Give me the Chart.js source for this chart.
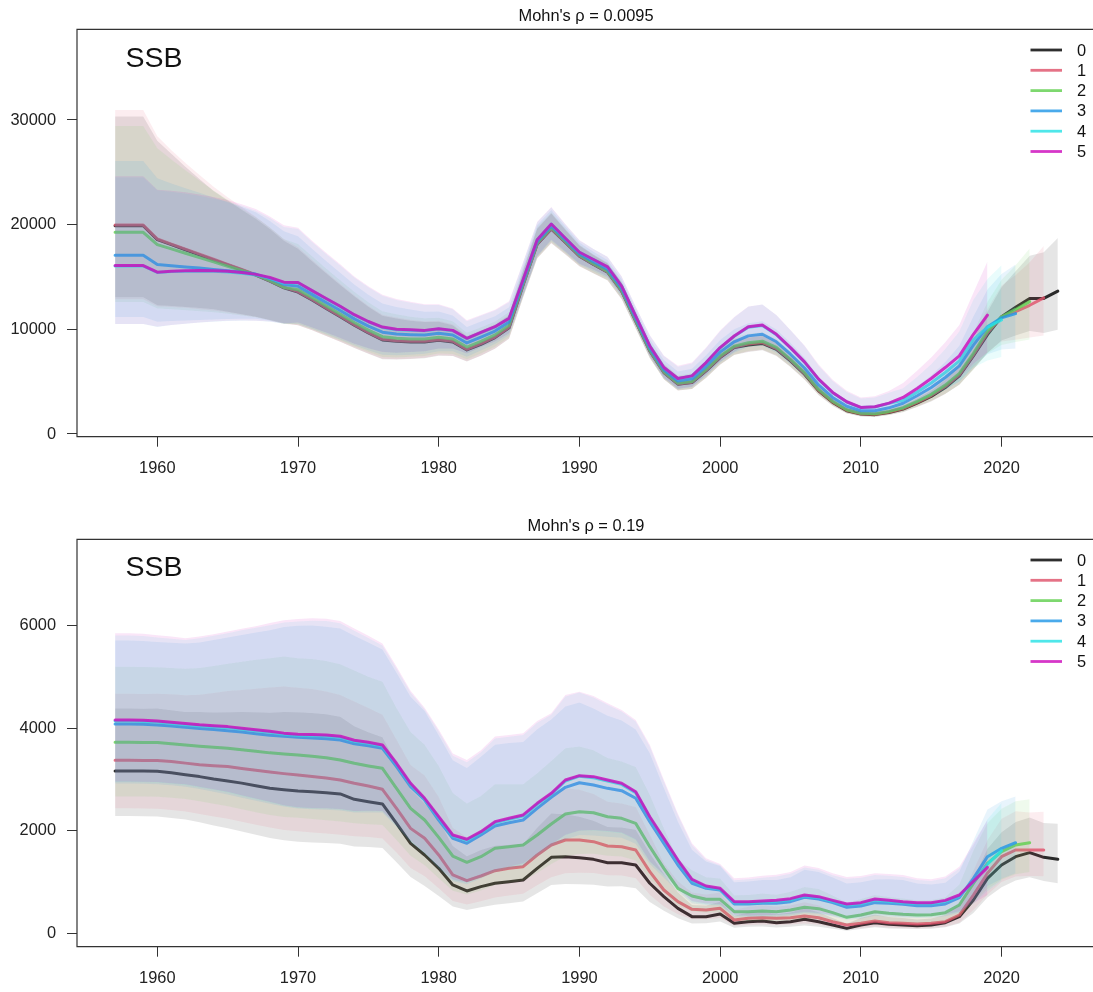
<!DOCTYPE html>
<html><head><meta charset="utf-8">
<script src="https://cdn.jsdelivr.net/npm/chart.js@4.4.1/dist/chart.umd.min.js"></script>
<style>
html,body{margin:0;padding:0;background:#fff;}
#wrap{position:relative;width:1093px;height:992px;overflow:hidden;}
.pane{position:absolute;left:0;width:1093px;height:496px;}
</style></head><body>
<div id="wrap">
<div class="pane" style="top:0"><canvas id="c1" width="1093" height="496"></canvas></div>
<div class="pane" style="top:496px"><canvas id="c2" width="1093" height="496"></canvas></div>
</div>
<script>
// ---------- categories ----------
const years = [1957,1958,1959,1960,1961,1962,1963,1964,1965,1966,1967,1968,1969,1970,1971,1972,1973,1974,1975,1976,1977,1978,1979,1980,1981,1982,1983,1984,1985,1986,1987,1988,1989,1990,1991,1992,1993,1994,1995,1996,1997,1998,1999,2000,2001,2002,2003,2004,2005,2006,2007,2008,2009,2010,2011,2012,2013,2014,2015,2016,2017,2018,2019,2020,2021,2022,2023,2024];
const peelLabels = ['0','1','2','3','4','5'];
const xTicks = [1960,1970,1980,1990,2000,2010,2020];
const yTicksTop = [0,10000,20000,30000];
const yTicksBottom = [0,2000,4000,6000];
const titleTop = "Mohn's \u03C1 = 0.0095";
const titleBottom = "Mohn's \u03C1 = 0.19";
const panelLabel = "SSB";

// ---------- top panel: estimates (from 1957) ----------
const topEst0 = [19900,19900,19900,18570,18086,17602,17118,16634,16150,15666,15185,14600,13970,13560,12800,12000,11200,10400,9650,8985,8860,8800,8800,8960,8800,8030,8570,9210,10160,14250,18140,19590,18300,16985,16190,15460,13650,10790,7935,5875,4760,4920,6030,7300,8255,8500,8650,8095,6985,5715,4125,3015,2220,1905,1850,2050,2380,2950,3585,4445,5555,7460,9500,11200,12100,12950,12950,13650];
const topEst1 = [19960,19960,19960,18630,18146,17662,17178,16694,16210,15726,15235,14640,14010,13606,12845,12048,11250,10450,9705,9047,8917,8858,8855,9015,8855,8086,8627,9262,10204,14276,18162,19614,18320,17004,16214,15486,13674,10814,7959,5899,4787,4952,6070,7348,8311,8588,8738,8167,7049,5774,4181,3063,2263,1937,1888,2095,2436,3020,3671,4540,5650,7563,9650,11200,11700,12300,13000];
const topEst2 = [19270,19270,19270,18095,17682,17269,16856,16443,16030,15617,15200,14650,14000,13790,13025,12238,11450,10650,9925,9294,9145,9088,9075,9235,9075,8308,8855,9470,10382,14378,18248,19708,18400,17080,16262,15537,13722,10862,8006,5946,4841,5015,6149,7443,8388,8710,8862,8267,7137,5856,4259,3130,2323,1981,1940,2158,2513,3118,3791,4674,5784,7708,9850,11200,11900,12650];
const topEst3 = [17080,17080,17080,16190,16080,15960,15850,15720,15590,15450,15280,14850,14290,14112,13340,12570,11800,11000,10310,9726,9544,9490,9460,9620,9460,8698,9254,9834,10693,14556,18398,19874,18540,17213,16454,15741,13914,11054,8196,6136,5057,5269,6467,7825,8810,9375,9533,8810,7620,6303,4683,3493,2650,2223,2227,2500,2935,3650,4443,5398,6508,8493,10250,11100,11500];
const topEst4 = [16060,16060,16060,15430,15520,15560,15570,15540,15480,15360,15200,14880,14430,14452,13673,12922,12170,11370,10717,10183,9966,9916,9867,10027,9867,9110,9676,10219,11021,14745,18557,20049,18688,17354,16656,15955,14116,11256,8396,6336,5284,5536,6801,8226,9332,10198,10362,9482,8217,6855,5207,3941,3054,2521,2580,2923,3213,4000,4871,5874,6984,9009,10200,10900];
const topEst5 = [16095,16095,16095,15460,15550,15600,15620,15600,15550,15420,15250,14950,14510,14480,13700,12950,12200,11400,10750,10220,10000,9950,9900,10060,9900,9143,9710,10250,11048,14760,18570,20063,18700,17365,16670,15970,14130,11270,8410,6350,5300,5555,6825,8255,9365,10250,10415,9525,8255,6890,5240,3970,3080,2540,2603,2950,3490,4350,5300,6350,7460,9525,11350];
// log-scale standard deviations of the estimates (band = 95% interval)
const topSd0 = [0.215,0.215,0.215,0.21,0.2,0.19,0.18,0.17,0.165,0.16,0.155,0.15,0.142,0.136,0.13,0.126,0.122,0.12,0.118,0.117,0.112,0.105,0.1,0.092,0.085,0.076,0.07,0.063,0.056,0.045,0.04,0.037,0.033,0.03,0.028,0.027,0.03,0.035,0.045,0.06,0.07,0.07,0.06,0.05,0.045,0.042,0.04,0.042,0.045,0.05,0.055,0.06,0.062,0.063,0.063,0.065,0.067,0.07,0.072,0.078,0.085,0.095,0.105,0.115,0.128,0.14,0.15,0.161];
const topSd1 = [0.224,0.224,0.224,0.216,0.205,0.195,0.186,0.177,0.17,0.164,0.158,0.152,0.145,0.138,0.132,0.128,0.124,0.121,0.119,0.118,0.113,0.106,0.1,0.093,0.086,0.077,0.071,0.064,0.057,0.046,0.04,0.037,0.033,0.03,0.028,0.027,0.03,0.035,0.046,0.062,0.072,0.072,0.062,0.052,0.047,0.044,0.042,0.044,0.047,0.052,0.057,0.062,0.065,0.067,0.068,0.07,0.072,0.075,0.079,0.085,0.092,0.1,0.11,0.121,0.133,0.147,0.165];
const topSd2 = [0.216,0.216,0.216,0.21,0.201,0.193,0.185,0.177,0.17,0.164,0.158,0.152,0.146,0.14,0.135,0.131,0.127,0.124,0.121,0.119,0.114,0.107,0.101,0.094,0.087,0.078,0.072,0.065,0.059,0.047,0.041,0.037,0.033,0.03,0.028,0.027,0.03,0.036,0.048,0.065,0.075,0.075,0.066,0.057,0.052,0.048,0.047,0.048,0.051,0.056,0.062,0.068,0.072,0.075,0.077,0.08,0.083,0.087,0.092,0.098,0.106,0.116,0.127,0.14,0.155,0.172];
const topSd3 = [0.216,0.216,0.216,0.21,0.203,0.197,0.191,0.185,0.179,0.173,0.167,0.161,0.155,0.149,0.144,0.14,0.136,0.133,0.13,0.127,0.122,0.115,0.108,0.1,0.092,0.083,0.076,0.069,0.063,0.05,0.042,0.038,0.034,0.031,0.029,0.028,0.031,0.037,0.052,0.072,0.085,0.085,0.078,0.07,0.065,0.062,0.062,0.064,0.068,0.074,0.08,0.088,0.095,0.1,0.103,0.106,0.11,0.114,0.118,0.124,0.132,0.142,0.152,0.163,0.175];
const topSd4 = [0.216,0.216,0.216,0.21,0.204,0.199,0.194,0.189,0.184,0.179,0.173,0.167,0.161,0.155,0.15,0.146,0.143,0.14,0.137,0.133,0.128,0.12,0.113,0.105,0.096,0.086,0.079,0.073,0.068,0.054,0.044,0.039,0.035,0.032,0.03,0.03,0.032,0.039,0.058,0.082,0.1,0.1,0.095,0.09,0.09,0.09,0.09,0.092,0.096,0.104,0.115,0.128,0.14,0.15,0.152,0.154,0.156,0.158,0.16,0.165,0.172,0.18,0.19,0.2];
const topSd5 = [0.217,0.217,0.217,0.21,0.205,0.2,0.195,0.19,0.185,0.18,0.175,0.168,0.162,0.157,0.152,0.148,0.145,0.142,0.139,0.135,0.13,0.122,0.115,0.107,0.098,0.088,0.08,0.075,0.07,0.055,0.045,0.04,0.036,0.033,0.03,0.03,0.033,0.04,0.06,0.085,0.105,0.105,0.098,0.092,0.09,0.088,0.088,0.09,0.095,0.105,0.12,0.135,0.15,0.16,0.165,0.168,0.17,0.168,0.164,0.165,0.17,0.178,0.19];

// ---------- bottom panel: estimates (from 1957) ----------
const botEst0 = [3167,3167,3165,3160,3130,3095,3057,3010,2971,2930,2880,2829,2800,2776,2760,2744,2719,2614,2568,2523,2145,1756,1528,1268,943,826,911,976,1008,1040,1268,1482,1495,1476,1443,1378,1378,1333,976,715,487,325,325,377,195,227,240,207,227,273,227,162,97,162,207,175,162,149,162,207,325,650,1072,1333,1495,1573,1482,1443];
const botEst1 = [3375,3375,3372,3369,3350,3320,3290,3270,3252,3215,3180,3145,3115,3089,3060,3030,2991,2926,2874,2809,2438,2047,1853,1528,1138,1027,1118,1222,1268,1300,1528,1723,1820,1820,1788,1703,1690,1625,1203,845,617,468,455,487,260,292,305,292,305,338,305,227,162,195,240,207,195,182,195,227,357,747,1170,1495,1625,1625,1625];
const botEst2 = [3726,3726,3723,3720,3700,3675,3650,3630,3610,3580,3550,3520,3500,3480,3455,3425,3382,3317,3265,3219,2829,2438,2210,1872,1508,1385,1495,1658,1690,1723,1918,2132,2327,2373,2353,2275,2243,2145,1690,1268,878,729,663,663,422,422,435,422,455,507,481,403,312,357,422,390,370,357,364,403,552,975,1365,1593,1723,1768];
const botEst3 = [4084,4084,4080,4065,4045,4020,3995,3975,3953,3925,3895,3865,3843,3824,3810,3795,3772,3697,3658,3610,3252,2861,2600,2210,1853,1756,1918,2093,2158,2210,2438,2653,2848,2938,2893,2828,2783,2634,2178,1755,1333,976,878,845,572,572,585,585,617,702,669,598,507,533,598,585,565,539,539,572,695,1072,1495,1658,1768];
const botEst4 = [4140,4140,4133,4120,4095,4070,4045,4030,4010,3980,3950,3920,3885,3860,3855,3850,3822,3745,3706,3654,3297,2906,2614,2255,1898,1814,1963,2158,2224,2289,2516,2711,2971,3065,3036,2971,2906,2743,2255,1833,1410,1033,903,858,597,597,610,623,656,727,695,623,552,578,649,623,597,578,578,623,727,1000,1350,1610];
const botEst5 = [4162,4162,4155,4143,4118,4093,4068,4050,4032,4000,3970,3940,3905,3882,3877,3870,3843,3765,3726,3674,3317,2926,2634,2275,1918,1834,1983,2178,2244,2309,2536,2731,2991,3075,3056,2991,2926,2763,2275,1853,1430,1053,923,878,617,617,630,643,676,747,715,643,572,598,669,643,617,598,598,643,747,1014,1287];
const botSd0 = [0.166,0.166,0.166,0.167,0.168,0.17,0.176,0.183,0.19,0.198,0.206,0.214,0.221,0.225,0.226,0.226,0.225,0.222,0.216,0.212,0.222,0.24,0.258,0.282,0.302,0.305,0.296,0.285,0.275,0.265,0.248,0.232,0.225,0.22,0.214,0.209,0.206,0.212,0.24,0.245,0.255,0.27,0.26,0.25,0.29,0.295,0.298,0.298,0.297,0.296,0.3,0.31,0.33,0.32,0.295,0.305,0.312,0.305,0.295,0.285,0.275,0.25,0.22,0.2,0.19,0.185,0.19,0.2];
const botSd1 = [0.166,0.166,0.166,0.167,0.169,0.171,0.177,0.184,0.191,0.199,0.207,0.215,0.222,0.224,0.226,0.226,0.225,0.222,0.217,0.213,0.223,0.241,0.259,0.283,0.303,0.306,0.297,0.286,0.276,0.266,0.249,0.232,0.225,0.22,0.214,0.209,0.206,0.212,0.24,0.245,0.255,0.27,0.26,0.25,0.29,0.295,0.298,0.298,0.297,0.296,0.3,0.31,0.33,0.32,0.295,0.305,0.312,0.305,0.296,0.286,0.276,0.252,0.225,0.205,0.195,0.19,0.193];
const botSd2 = [0.17,0.17,0.17,0.17,0.171,0.173,0.178,0.185,0.192,0.2,0.208,0.215,0.221,0.221,0.223,0.224,0.224,0.222,0.218,0.215,0.225,0.243,0.26,0.284,0.304,0.308,0.298,0.287,0.277,0.267,0.249,0.232,0.224,0.219,0.213,0.208,0.205,0.211,0.24,0.245,0.255,0.268,0.255,0.245,0.288,0.293,0.296,0.296,0.296,0.295,0.3,0.31,0.33,0.32,0.293,0.303,0.31,0.303,0.295,0.285,0.277,0.256,0.232,0.215,0.205,0.2];
const botSd3 = [0.171,0.171,0.171,0.171,0.172,0.174,0.179,0.186,0.193,0.201,0.209,0.217,0.225,0.23,0.232,0.232,0.232,0.23,0.224,0.218,0.228,0.244,0.261,0.285,0.306,0.31,0.299,0.288,0.277,0.267,0.25,0.231,0.225,0.218,0.212,0.207,0.204,0.21,0.244,0.245,0.25,0.262,0.238,0.225,0.283,0.29,0.294,0.293,0.292,0.291,0.296,0.306,0.333,0.32,0.287,0.3,0.311,0.3,0.29,0.278,0.28,0.268,0.245,0.225,0.21];
const botSd4 = [0.173,0.173,0.173,0.172,0.173,0.174,0.18,0.186,0.193,0.202,0.21,0.218,0.227,0.232,0.234,0.234,0.234,0.232,0.225,0.219,0.229,0.245,0.262,0.285,0.307,0.311,0.3,0.289,0.278,0.268,0.25,0.231,0.225,0.218,0.212,0.207,0.203,0.209,0.245,0.245,0.25,0.261,0.236,0.222,0.282,0.29,0.294,0.293,0.292,0.291,0.295,0.306,0.334,0.32,0.286,0.3,0.312,0.3,0.29,0.277,0.283,0.275,0.255,0.233];
const botSd5 = [0.174,0.174,0.174,0.173,0.174,0.174,0.18,0.186,0.193,0.202,0.21,0.219,0.228,0.233,0.235,0.235,0.235,0.233,0.226,0.22,0.23,0.245,0.262,0.285,0.308,0.312,0.3,0.289,0.278,0.268,0.25,0.231,0.225,0.218,0.212,0.207,0.203,0.209,0.245,0.245,0.25,0.261,0.235,0.22,0.282,0.29,0.294,0.293,0.292,0.291,0.295,0.306,0.334,0.32,0.286,0.3,0.312,0.3,0.29,0.277,0.283,0.28,0.276];

// ---------- styles ----------
const FONT = "'Liberation Sans', Arial, Helvetica, sans-serif";
const lineColors = ['rgba(0,0,0,0.82)','rgba(223,83,107,0.82)','rgba(97,208,79,0.82)','rgba(34,151,230,0.82)','rgba(40,226,229,0.82)','rgba(205,11,188,0.82)'];
const bandColors = ['rgba(0,0,0,0.1)','rgba(223,83,107,0.1)','rgba(97,208,79,0.1)','rgba(34,151,230,0.1)','rgba(40,226,229,0.1)','rgba(205,11,188,0.1)'];
const X_MIN = 1954.293, X_MAX = 2026.5;

function buildDatasets(estList, sdList) {
  const ds = [];
  estList.forEach((est, i) => {
    const sd = sdList[i];
    const mid = est.map((v, j) => ({x: years[j], y: v}));
    const hi = est.map((v, j) => ({x: years[j], y: v * Math.exp(1.96 * sd[j])}));
    const lo = est.map((v, j) => ({x: years[j], y: v * Math.exp(-1.96 * sd[j])}));
    const base = {pointRadius: 0, pointHoverRadius: 0, tension: 0};
    ds.push(Object.assign({label: 'hi' + i, data: hi, fill: '+1', backgroundColor: bandColors[i], borderColor: 'rgba(0,0,0,0)', borderWidth: 0, order: 100 - 10 * i}, base));
    ds.push(Object.assign({label: 'lo' + i, data: lo, fill: false, borderColor: 'rgba(0,0,0,0)', borderWidth: 0, order: 100 - 10 * i}, base));
    ds.push(Object.assign({label: peelLabels[i], data: mid, fill: false, borderColor: lineColors[i], borderWidth: 3, borderJoinStyle: 'round', borderCapStyle: 'round', order: 99 - 10 * i}, base));
  });
  return ds;
}

const deco = {
  id: 'deco',
  afterDraw(chart, args, o) {
    const {ctx, chartArea: a} = chart;
    ctx.save();
    ctx.strokeStyle = '#333';
    ctx.lineWidth = 1.2;
    ctx.beginPath();
    ctx.moveTo(a.right + 5, a.top); ctx.lineTo(a.left, a.top);
    ctx.lineTo(a.left, a.bottom); ctx.lineTo(a.right + 5, a.bottom);
    ctx.stroke();
    ctx.fillStyle = '#111';
    ctx.font = '16.4px ' + FONT;
    ctx.textAlign = 'center'; ctx.textBaseline = 'middle';
    ctx.fillText(o.title, 586, o.titleY);
    ctx.font = '28.5px ' + FONT;
    ctx.textAlign = 'left'; ctx.textBaseline = 'alphabetic';
    ctx.fillText(panelLabel, 125.6, o.labelY);
    ctx.font = '16.4px ' + FONT;
    ctx.textBaseline = 'middle';
    peelLabels.forEach((lab, i) => {
      const y = o.legY + i * 20.3;
      ctx.strokeStyle = lineColors[i];
      ctx.lineWidth = 2.8;
      ctx.beginPath(); ctx.moveTo(1030.5, y); ctx.lineTo(1062, y); ctx.stroke();
      ctx.fillStyle = '#111';
      ctx.fillText(lab, 1077, y + 1);
    });
    ctx.restore();
  }
};

function makeChart(id, cfg) {
  const tickFont = {family: FONT, size: 16.4};
  return new Chart(document.getElementById(id), {
    type: 'line',
    data: {datasets: buildDatasets(cfg.est, cfg.sd)},
    options: {
      responsive: false, animation: false, devicePixelRatio: 1, events: [],
      layout: {padding: {top: cfg.padTop, left: 0, right: 0, bottom: 0}},
      plugins: {
        legend: {display: false}, tooltip: {enabled: false}, title: {display: false},
        filler: {propagate: false},
        deco: {title: cfg.title, titleY: cfg.titleY, labelY: cfg.labelY, legY: cfg.legY}
      },
      scales: {
        x: {
          type: 'linear', min: X_MIN, max: X_MAX,
          afterBuildTicks: s => { s.ticks = xTicks.map(v => ({value: v})); },
          afterFit: s => { s.height = cfg.xAxisH; },
          ticks: {font: tickFont, color: '#222', padding: 11.5, maxRotation: 0, autoSkip: false, callback: v => String(v)},
          grid: {drawOnChartArea: false, drawTicks: true, tickLength: 10, color: '#333', lineWidth: 1},
          border: {display: false}
        },
        y: {
          type: 'linear', min: cfg.yMin, max: cfg.yMax,
          afterBuildTicks: s => { s.ticks = cfg.yTicks.map(v => ({value: v})); },
          afterFit: s => { s.width = 77; },
          ticks: {font: tickFont, color: '#222', padding: 11, autoSkip: false, callback: v => String(v)},
          grid: {drawOnChartArea: false, drawTicks: true, tickLength: 10, color: '#333', lineWidth: 1},
          border: {display: false}
        }
      }
    },
    plugins: [deco]
  });
}

makeChart('c1', {
  est: [topEst0, topEst1, topEst2, topEst3, topEst4, topEst5],
  sd: [topSd0, topSd1, topSd2, topSd3, topSd4, topSd5],
  padTop: 29.3, xAxisH: 59.3, yMin: -258, yMax: 38665, yTicks: yTicksTop,
  title: titleTop, titleY: 16, labelY: 66.7, legY: 50
});
makeChart('c2', {
  est: [botEst0, botEst1, botEst2, botEst3, botEst4, botEst5],
  sd: [botSd0, botSd1, botSd2, botSd3, botSd4, botSd5],
  padTop: 43.3, xAxisH: 45.3, yMin: -261, yMax: 7686, yTicks: yTicksBottom,
  title: titleBottom, titleY: 30, labelY: 80, legY: 64
});
</script>
</body></html>
